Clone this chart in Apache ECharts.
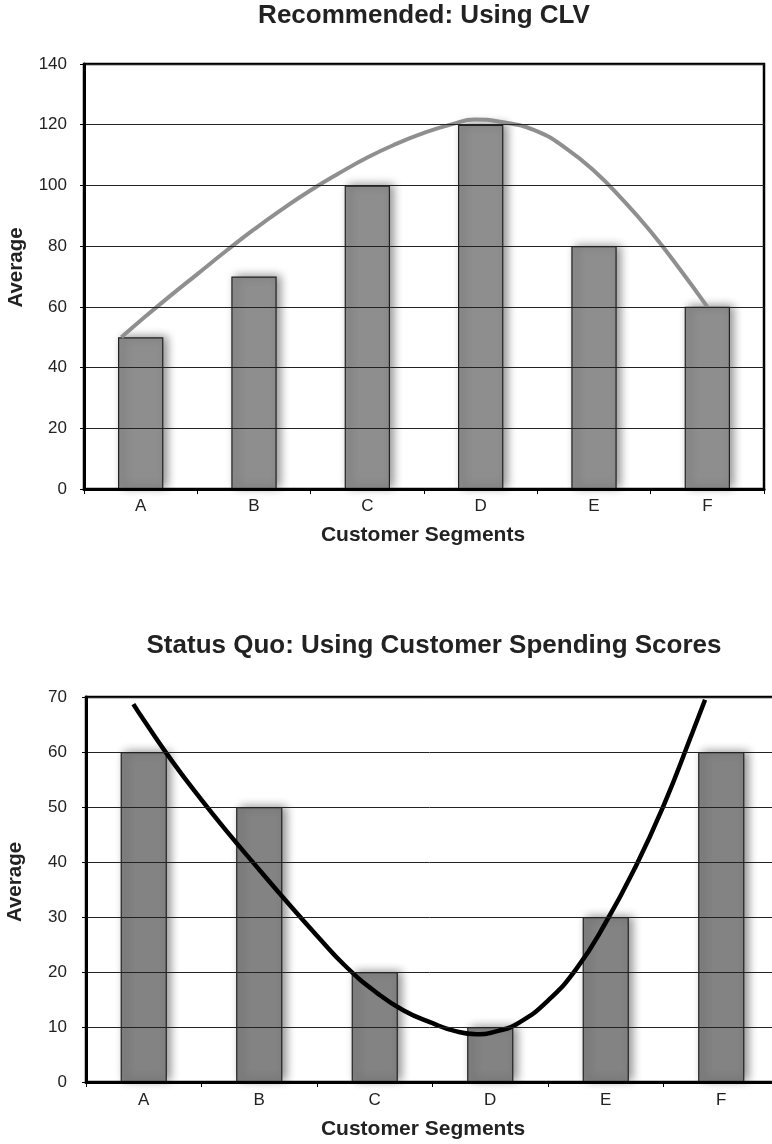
<!DOCTYPE html>
<html>
<head>
<meta charset="utf-8">
<script src="https://cdn.jsdelivr.net/npm/echarts@6/dist/echarts.min.js"></script>
<style>
html,body{margin:0;padding:0;background:#fff;}
#chart{width:772px;height:1144px;}
</style>
</head>
<body>
<div id="chart"></div>
<script>
// ---- data ----
const categories = ['A', 'B', 'C', 'D', 'E', 'F'];

const topTitle = 'Recommended: Using CLV';
const topBars = [50, 70, 100, 120, 80, 60];
const topTicks = [0, 20, 40, 60, 80, 100, 120, 140];
// trend curve: position in category units (A=0 ... F=5), value
const topCurveX = [-0.17, 0, 0.25, 0.5, 0.75, 1.0, 1.25, 1.5, 1.75, 2.0, 2.25, 2.5, 2.75, 2.95, 3.2, 3.5, 3.75, 4.0, 4.25, 4.5, 4.75, 5.0];
const topCurveY = [50, 55.5, 63.3, 70.8, 78.3, 85.5, 92.2, 98.4, 104.0, 109.2, 113.6, 117.3, 120.2, 121.7, 120.8, 117.8, 112.3, 104.8, 95.4, 84.8, 72.8, 60];

const bottomTitle = 'Status Quo: Using Customer Spending Scores';
const bottomBars = [60, 50, 20, 10, 30, 60];
const bottomTicks = [0, 10, 20, 30, 40, 50, 60, 70];
const bottomCurveX = [-0.09, 0, 0.25, 0.5, 0.75, 1.0, 1.25, 1.5, 1.75, 2.0, 2.25, 2.5, 2.69, 2.88, 3.07, 3.25, 3.5, 3.75, 4.0, 4.25, 4.5, 4.75, 4.86];
const bottomCurveY = [68.7, 65.8, 58.2, 51.3, 44.8, 38.6, 32.5, 26.6, 21.0, 16.5, 13.0, 10.7, 9.3, 8.7, 9.3, 10.8, 14.8, 20.7, 29.0, 38.8, 50.2, 63.5, 69.5];

const xName = 'Customer Segments';
const yName = 'Average';

// ---- chart ----
const FONT = '"Liberation Sans", Arial, Helvetica, sans-serif';
const chart = echarts.init(document.getElementById('chart'), null, {renderer: 'canvas'});

function zip(xs, ys) { return xs.map((x, i) => [x, ys[i]]); }

function catAxis(gi, margin) {
  return {
    type: 'category', gridIndex: gi, data: categories, boundaryGap: true,
    axisLine: {show: true, onZero: false, lineStyle: {color: '#000', width: 3}},
    axisTick: {show: true, length: 5, lineStyle: {color: '#000', width: 1}},
    axisLabel: {color: '#222', fontSize: 17, fontFamily: FONT, margin: margin},
    splitLine: {show: false}, z: 5
  };
}
function valXAxis(gi) {
  return {type: 'value', gridIndex: gi, min: -0.5, max: 5.5, show: false,
          axisLine: {show: false, onZero: false}, splitLine: {show: false}};
}
function valYAxis(gi, ticks, margin) {
  return {
    type: 'value', gridIndex: gi,
    min: ticks[0], max: ticks[ticks.length - 1], interval: ticks[1] - ticks[0],
    axisLine: {show: true, onZero: false, lineStyle: {color: '#000', width: 3}},
    axisTick: {show: true, length: 4, lineStyle: {color: '#000', width: 1}},
    axisLabel: {color: '#222', fontSize: 17, fontFamily: FONT, margin: margin},
    splitLine: {show: true, lineStyle: {color: '#222', width: 1}}, z: 5
  };
}
function barStyle(color) {
  return {
    color: color, borderColor: '#222', borderWidth: 1.2,
    shadowColor: 'rgba(0,0,0,0.45)', shadowBlur: 9, shadowOffsetX: 4, shadowOffsetY: -1
  };
}

const option = {
  backgroundColor: '#fff',
  animation: false,
  grid: [
    {left: 84, width: 680, top: 64, height: 425, show: true, borderColor: '#000', borderWidth: 2.5,
     backgroundColor: 'transparent', containLabel: false, outerBoundsMode: 'none'},
    {left: 86, width: 693, top: 697, height: 385, show: true, borderColor: '#000', borderWidth: 2.5,
     backgroundColor: 'transparent', containLabel: false, outerBoundsMode: 'none'}
  ],
  xAxis: [catAxis(0, 9), valXAxis(0), catAxis(1, 10), valXAxis(1)],
  yAxis: [valYAxis(0, topTicks, 17), valYAxis(1, bottomTicks, 19)],
  series: [
    {type: 'bar', xAxisIndex: 0, yAxisIndex: 0, data: topBars, barWidth: '40%',
     itemStyle: barStyle('#8e8e8e'), z: 2},
    {type: 'line', xAxisIndex: 1, yAxisIndex: 0, data: zip(topCurveX, topCurveY),
     smooth: 0.5, showSymbol: false, symbol: 'none',
     lineStyle: {color: '#8f8f8f', width: 4}, z: 4},
    {type: 'bar', xAxisIndex: 2, yAxisIndex: 1, data: bottomBars, barWidth: '40%',
     itemStyle: barStyle('#838383'), z: 2},
    {type: 'line', xAxisIndex: 3, yAxisIndex: 1, data: zip(bottomCurveX, bottomCurveY),
     smooth: 0.5, showSymbol: false, symbol: 'none',
     lineStyle: {color: '#000', width: 4.5}, z: 4}
  ],
  graphic: [
    {type: 'text', x: 424, y: 16, style: {text: topTitle, font: 'bold 26px ' + FONT, fill: '#222',
      textAlign: 'center', textVerticalAlign: 'middle'}},
    {type: 'text', x: 434, y: 646, style: {text: bottomTitle, font: 'bold 26px ' + FONT, fill: '#222',
      textAlign: 'center', textVerticalAlign: 'middle'}},
    {type: 'text', x: 423, y: 535.5, style: {text: xName, font: 'bold 21px ' + FONT, fill: '#222',
      textAlign: 'center', textVerticalAlign: 'middle'}},
    {type: 'text', x: 423, y: 1129, style: {text: xName, font: 'bold 21px ' + FONT, fill: '#222',
      textAlign: 'center', textVerticalAlign: 'middle'}},
    {type: 'text', x: 16.5, y: 267.5, rotation: Math.PI / 2, style: {text: yName, font: 'bold 20.5px ' + FONT, fill: '#222',
      textAlign: 'center', textVerticalAlign: 'middle'}},
    {type: 'text', x: 15.5, y: 882, rotation: Math.PI / 2, style: {text: yName, font: 'bold 20.5px ' + FONT, fill: '#222',
      textAlign: 'center', textVerticalAlign: 'middle'}}
  ]
};
chart.setOption(option);
</script>
</body>
</html>
